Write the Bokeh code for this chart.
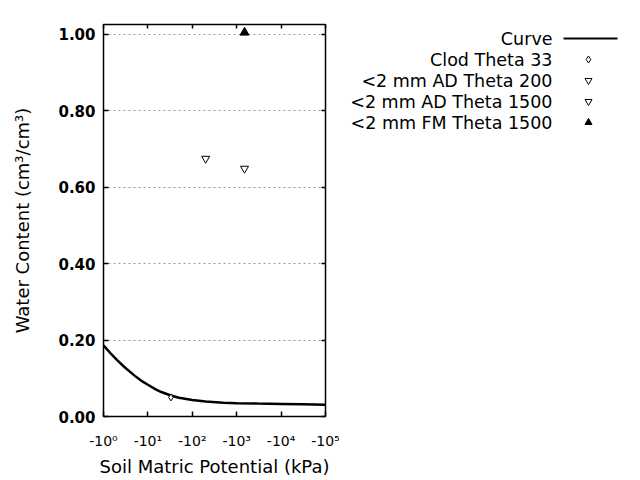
from bokeh.plotting import figure
from bokeh.layouts import row
from bokeh.models import Range1d, FixedTicker, LinearAxis, LogAxis, CustomJSTickFormatter
from bokeh.embed import file_html
from bokeh.resources import INLINE
from bokeh.core.properties import value

# ---- data ----
curve_kpa = [1, 1.5, 2, 3, 5, 7, 10, 15, 20, 33, 50, 100, 200, 500, 1000, 3000, 10000, 30000, 100000]
curve_theta = [0.186, 0.163, 0.148, 0.129, 0.107, 0.094, 0.083, 0.071, 0.064, 0.055, 0.049,
               0.043, 0.039, 0.036, 0.035, 0.034, 0.033, 0.032, 0.031]
clod33_kpa = [33]
clod33_theta = [0.050]
ad200_kpa = [200]
ad200_theta = [0.675]
ad1500_kpa = [1500]
ad1500_theta = [0.649]
fm1500_kpa = [1500]
fm1500_theta = [1.005]

x_ticks = [1, 10, 100, 1000, 10000, 100000]
x_tick_labels = ["-10\u2070", "-10\u00b9", "-10\u00b2", "-10\u00b3", "-10\u2074", "-10\u2075"]
y_ticks = [0.0, 0.2, 0.4, 0.6, 0.8, 1.0]
y_tick_labels = ["0.00", "0.20", "0.40", "0.60", "0.80", "1.00"]
legend_labels = ["Curve", "Clod Theta 33", "<2 mm AD Theta 200", "<2 mm AD Theta 1500", "<2 mm FM Theta 1500"]

FONT = "DejaVu Sans"
TOP, BOTTOM = 24, 64

p = figure(width=345, height=480, x_axis_type="log",
           x_range=Range1d(1, 1e5), y_range=Range1d(0, 1.026),
           output_backend="svg", toolbar_location=None, title=None,
           min_border_left=103, min_border_right=20, min_border_top=TOP, min_border_bottom=BOTTOM)
p.outline_line_color = "black"
p.outline_line_width = 1.5
p.background_fill_color = "white"
p.border_fill_color = "white"

p.xgrid.visible = False
p.ygrid.ticker = FixedTicker(ticks=y_ticks)
p.ygrid.grid_line_color = "#999999"
p.ygrid.grid_line_dash = "2 3"
p.ygrid.grid_line_width = 1

xa = p.xaxis[0]
xa.ticker = FixedTicker(ticks=x_ticks)
xa.major_label_overrides = {t: l for t, l in zip(x_ticks, x_tick_labels)}
xa.axis_label = "Soil Matric Potential (kPa)"
ya = p.yaxis[0]
ya.ticker = FixedTicker(ticks=y_ticks)
ya.major_label_overrides = {t: l for t, l in zip(y_ticks, y_tick_labels)}
ya.axis_label = "Water Content (cm\u00b3/cm\u00b3)"

for ax in (xa, ya):
    ax.major_tick_in = 5
    ax.major_tick_out = 0
    ax.minor_tick_line_color = None
    ax.axis_line_color = "black"
    ax.major_tick_line_color = "black"
    ax.major_tick_line_width = 1.5
    ax.major_label_text_font = FONT
    ax.major_label_text_color = "black"
    ax.axis_label_text_font = FONT
    ax.axis_label_text_font_size = "18px"
    ax.axis_label_text_font_style = "normal"
    ax.axis_label_text_color = "black"

xa.major_label_text_font_size = "14px"
ya.major_label_text_font_size = "15px"
ya.major_label_text_font_style = "bold"
ya.major_label_standoff = 8
ya.axis_label_standoff = 22
xa.major_label_standoff = 16
xa.axis_label_standoff = 4

blank = CustomJSTickFormatter(code="return ''")
top = LogAxis(ticker=FixedTicker(ticks=x_ticks), formatter=blank)
right = LinearAxis(ticker=FixedTicker(ticks=y_ticks), formatter=blank)
for ax in (top, right):
    ax.major_tick_in = 4
    ax.major_tick_out = 0
    ax.minor_tick_line_color = None
    ax.axis_line_color = None
    ax.major_tick_line_color = "black"
    ax.major_tick_line_width = 1.5
    ax.major_label_standoff = 0
    ax.major_label_text_font_size = "1px"
p.add_layout(top, "above")
p.add_layout(right, "right")

# ---- data glyphs ----
p.line(curve_kpa, curve_theta, line_color="black", line_width=2.5)
p.scatter(clod33_kpa, clod33_theta, marker="diamond", size=7, fill_color="white", line_color="black", line_width=1)
p.scatter(ad200_kpa, ad200_theta, marker="inverted_triangle", size=8, fill_color="white", line_color="black", line_width=1)
p.scatter(ad1500_kpa, ad1500_theta, marker="inverted_triangle", size=8, fill_color="white", line_color="black", line_width=1)
p.scatter(fm1500_kpa, fm1500_theta, marker="triangle", size=9, fill_color="black", line_color="black", line_width=1)

# ---- legend panel (text right-aligned, sample on the right) ----
# its frame shares the main frame's top/bottom, so y is given in page pixels
lg = figure(width=295, height=480, x_range=Range1d(345, 640), y_range=Range1d(480 - BOTTOM, TOP),
            output_backend="svg", toolbar_location=None, title=None,
            min_border_left=0, min_border_right=0, min_border_top=TOP, min_border_bottom=BOTTOM)
lg.axis.visible = False
lg.grid.visible = False
lg.outline_line_color = None
lg.border_fill_color = "white"

text_right = 552
row0 = 38
row_step = 21
sample_x = 588
rows_y = [row0 + i * row_step for i in range(len(legend_labels))]

lg.text(x=[text_right] * len(legend_labels), y=rows_y, text=legend_labels,
        text_align="right", text_baseline="middle",
        text_font=value(FONT), text_font_size="17.5px", text_color="black")
lg.line([sample_x - 25, sample_x + 29], [rows_y[0], rows_y[0]], line_color="black", line_width=2)
lg.scatter([sample_x], [rows_y[1]], marker="diamond", size=7, fill_color="white", line_color="black")
lg.scatter([sample_x], [rows_y[2]], marker="inverted_triangle", size=7, fill_color="white", line_color="black")
lg.scatter([sample_x], [rows_y[3]], marker="inverted_triangle", size=7, fill_color="white", line_color="black")
lg.scatter([sample_x], [rows_y[4]], marker="triangle", size=7, fill_color="black", line_color="black")

layout = row(p, lg, spacing=0)
open("out.html", "w").write(file_html(layout, INLINE))
